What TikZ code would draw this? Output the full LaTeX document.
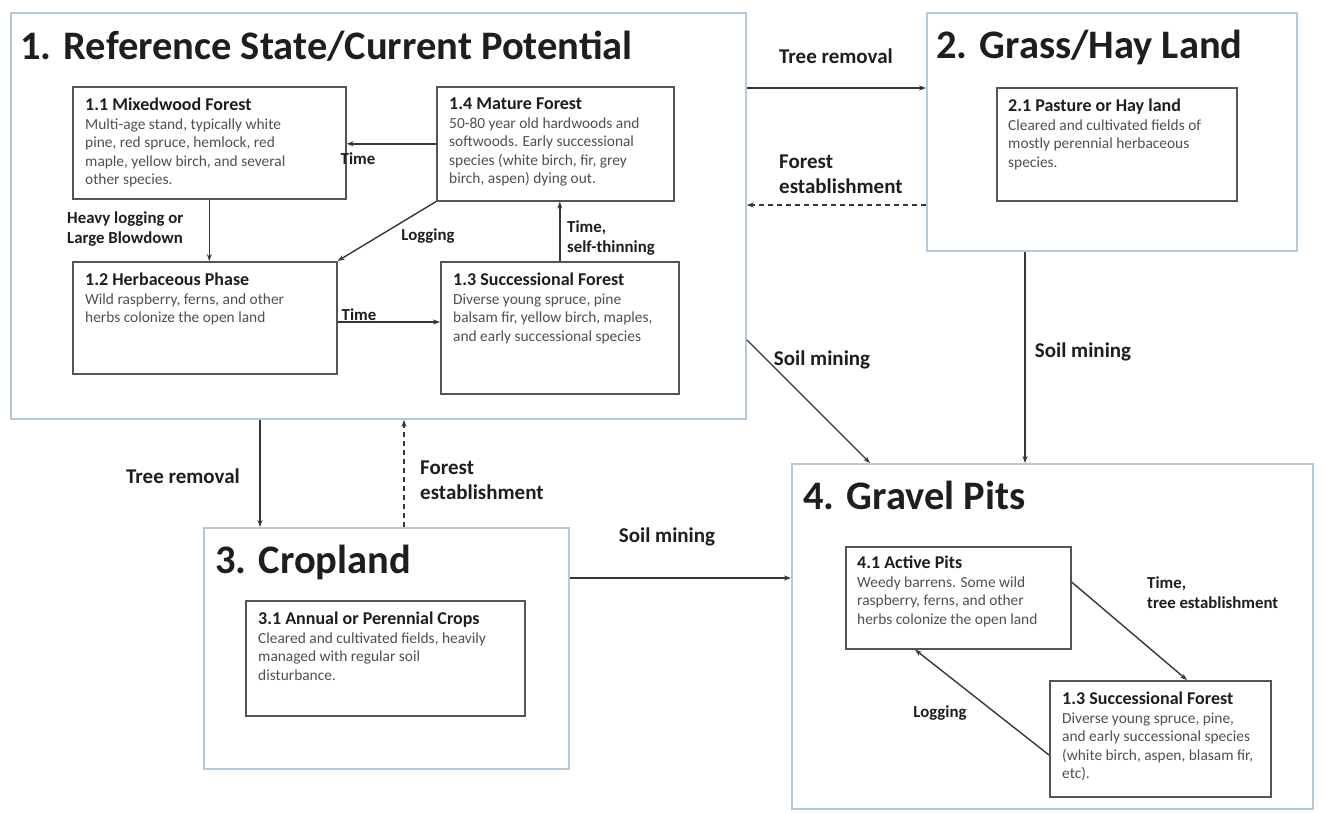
\documentclass[tikz,border=0pt]{standalone}
\usepackage{fontspec}
\setmainfont{Carlito}
\usetikzlibrary{arrows.meta,calc}
\definecolor{outerc}{RGB}{180,202,218}
\definecolor{boxc}{RGB}{85,85,85}
\definecolor{bodyc}{RGB}{80,80,80}
\definecolor{titlec}{RGB}{30,30,30}
\definecolor{linec}{RGB}{55,55,55}
\newcommand{\bt}[1]{{\fontsize{18}{21}\selectfont\bfseries\color{titlec}#1}}
\begin{document}
\begin{tikzpicture}[x=1pt,y=-1pt,
  outer/.style={draw=outerc, line width=1.8pt, anchor=north west, inner sep=0},
  inbox/.style={draw=boxc, line width=1.6pt, anchor=north west, inner sep=0},
  txt/.style={anchor=north west, align=left, inner sep=0, text=bodyc, font=\fontsize{15.4}{18.5}\selectfont},
  bigtitle/.style={anchor=base west, inner sep=0, text=titlec, font=\fontsize{40.5}{46}\selectfont\bfseries},
  ilab/.style={inner sep=0, text=titlec, align=left, font=\fontsize{16.8}{20}\selectfont\bfseries},
  olab/.style={inner sep=0, text=titlec, align=left, font=\fontsize{21}{25}\selectfont\bfseries},
  arr/.style={draw=linec, line width=1.4pt, -{Stealth[length=7pt,width=5pt]}},
  darr/.style={arr, dashed, dash pattern=on 5pt off 4pt}
]
\useasboundingbox[fill=white] (0,0) rectangle (1324,812);

% outer states
\node[outer, minimum width=735, minimum height=406] (s1) at (10,12) {};
\node[outer, minimum width=370, minimum height=238] (s2) at (926,12) {};
\node[outer, minimum width=365, minimum height=241] (s3) at (203,527) {};
\node[outer, minimum width=521, minimum height=345] (s4) at (791,463) {};

\node[bigtitle] (h1) at (20,59) {1. Reference State/Current Potential};
\node[bigtitle] (h2) at (936,58) {2. Grass/Hay Land};
\node[bigtitle] (h3) at (215,573) {3. Cropland};
\node[bigtitle] (h4) at (803,509) {4. Gravel Pits};

% inner boxes
\node[inbox, minimum width=273, minimum height=112] (b11) at (72,86) {};
\node[inbox, minimum width=237, minimum height=114] (b14) at (436,86) {};
\node[inbox, minimum width=264, minimum height=112] (b12) at (72,261) {};
\node[inbox, minimum width=238, minimum height=132] (b13) at (440,261) {};
\node[inbox, minimum width=240, minimum height=113] (b21) at (996,87) {};
\node[inbox, minimum width=279, minimum height=115] (b31) at (245,600) {};
\node[inbox, minimum width=225, minimum height=102] (b41) at (845,546) {};
\node[inbox, minimum width=221, minimum height=116] (b13b) at (1049,680) {};

\node[txt] (t11) at ($(b11.north west)+(13,12)$) {\bt{1.1 Mixedwood Forest}\\Multi-age stand, typically white\\pine, red spruce, hemlock, red\\maple, yellow birch, and several\\other species.};
\node[txt] (t14) at ($(b14.north west)+(13,12)$) {\bt{1.4 Mature Forest}\\50-80 year old hardwoods and\\softwoods. Early successional\\species (white birch, fir, grey\\birch, aspen) dying out.};
\node[txt] (t12) at ($(b12.north west)+(13,12)$) {\bt{1.2 Herbaceous Phase}\\Wild raspberry, ferns, and other\\herbs colonize the open land};
\node[txt] (t13) at ($(b13.north west)+(13,12)$) {\bt{1.3 Successional Forest}\\Diverse young spruce, pine\\balsam fir, yellow birch, maples,\\and early successional species};
\node[txt] (t21) at ($(b21.north west)+(12,12)$) {\bt{2.1 Pasture or Hay land}\\Cleared and cultivated fields of\\mostly perennial herbaceous\\species.};
\node[txt] (t31) at ($(b31.north west)+(13,12)$) {\bt{3.1 Annual or Perennial Crops}\\Cleared and cultivated fields, heavily\\managed with regular soil\\disturbance.};
\node[txt] (t41) at ($(b41.north west)+(12,10)$) {\bt{4.1 Active Pits}\\Weedy barrens. Some wild\\raspberry, ferns, and other\\herbs colonize the open land};
\node[txt] (t13b) at ($(b13b.north west)+(13,12)$) {\bt{1.3 Successional Forest}\\Diverse young spruce, pine,\\and early successional species\\(white birch, aspen, blasam fir,\\etc).};

% inner connectors
\draw[arr] (b14.west) -- (b11.east |- b14.west);
\draw[arr] (b11.south) -- (b12.north -| b11.south);
\draw[arr] (b14.south west) -- (b12.north east);
\draw[arr] (b13.north) -- (b14.south -| b13.north);
\draw[arr] ($(b12.north east)+(0,61)$) -- ($(b13.north west)+(0,61)$);

\node[ilab] (l1) at (358,159) {Time};
\node[ilab, anchor=west] (l2) at (67,229) {Heavy logging or\\Large Blowdown};
\node[ilab] (l3) at (428,236) {Logging};
\node[ilab, anchor=west] (l4) at (567,238) {Time,\\self-thinning};
\node[ilab] (l5) at (359,315) {Time};

% outer connectors
\draw[arr] ($(s1.north east)+(0,76)$) -- ($(s2.north west)+(0,76)$);
\draw[darr] ($(s2.north west)+(0,193)$) -- ($(s1.north east)+(0,193)$);
\draw[arr] ($(s2.south west)+(99,0)$) -- ($(s4.north west)+(234,0)$);
\draw[arr] ($(s1.south east)+(0,-80)$) -- ($(s4.north west)+(79,0)$);
\draw[arr] ($(s1.south west)+(250,0)$) -- ($(s3.north west)+(57,0)$);
\draw[darr] ($(s3.north west)+(201,0)$) -- ($(s1.south west)+(394,0)$);
\draw[arr] ($(s3.north east)+(0,51)$) -- ($(s4.north west)+(0,115)$);
\draw[arr] ($(b41.north east)+(0,36)$) -- ($(b13b.north west)+(138,0)$);
\draw[arr] ($(b13b.north west)+(0,75)$) -- ($(b41.south west)+(70,0)$);

\node[olab] (o1) at (836,56) {Tree removal};
\node[olab, anchor=west] (o2) at (779,174) {Forest\\establishment};
\node[olab] (o3) at (1083,352) {Soil mining};
\node[olab] (o4) at (822,360) {Soil mining};
\node[olab] (o5) at (183,476) {Tree removal};
\node[olab, anchor=west] (o6) at (420,480) {Forest\\establishment};
\node[olab] (o7) at (667,537) {Soil mining};
\node[ilab, anchor=west] (o8) at (1147,593) {Time,\\tree establishment};
\node[ilab] (o9) at (940,713) {Logging};
\end{tikzpicture}
\end{document}
